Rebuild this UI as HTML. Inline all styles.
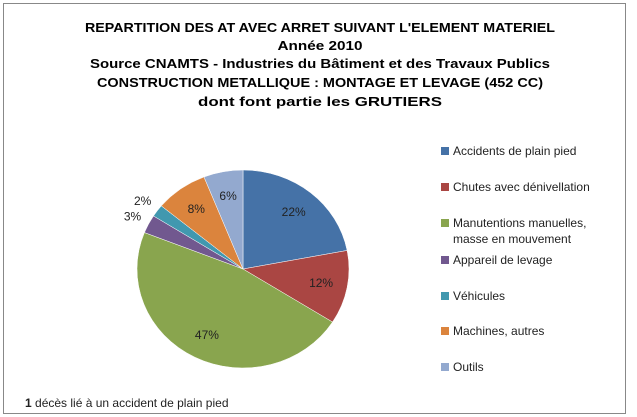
<!DOCTYPE html>
<html><head><meta charset="utf-8"><style>
html,body{margin:0;padding:0;background:#fff;}
svg{display:block;font-family:"Liberation Sans",sans-serif;}
</style></head><body>
<svg id="chart" width="637" height="417" viewBox="0 0 637 417">
<rect x="3.5" y="3.5" width="622" height="410" fill="#fff" stroke="#888" stroke-width="1"/>
<g font-weight="bold" font-size="13" fill="#000" text-anchor="middle">
<text x="320" y="32" textLength="470" lengthAdjust="spacingAndGlyphs">REPARTITION DES AT AVEC ARRET SUIVANT L'ELEMENT MATERIEL</text>
<text x="320" y="50" textLength="85" lengthAdjust="spacingAndGlyphs">Année 2010</text>
<text x="320" y="68" textLength="460" lengthAdjust="spacingAndGlyphs">Source CNAMTS - Industries du Bâtiment et des Travaux Publics</text>
<text x="320" y="87" textLength="446" lengthAdjust="spacingAndGlyphs">CONSTRUCTION METALLIQUE : MONTAGE ET LEVAGE (452 CC)</text>
<text x="320" y="106" textLength="244" lengthAdjust="spacingAndGlyphs">dont font partie les GRUTIERS</text>
</g>
<g id="slices"></g>
<g id="labels" font-size="12" fill="#222"></g>
<g id="legend" font-size="12" fill="#222"></g>
<text x="25" y="407" font-size="12" fill="#222"><tspan font-weight="bold">1</tspan> décès lié à un accident de plain pied</text>
</svg>
<script>
const categories = ["Accidents de plain pied","Chutes avec dénivellation","Manutentions manuelles, masse en mouvement","Appareil de levage","Véhicules","Machines, autres","Outils"];
const values = [22,12,47,3,2,8,6];
const colors = ["#4572A7","#AA4643","#89A54E","#71588F","#4198AF","#DB843D","#93A9CF"];
const legendLines = [["Accidents de plain pied"],["Chutes avec dénivellation"],["Manutentions manuelles,","masse en mouvement"],["Appareil de levage"],["Véhicules"],["Machines, autres"],["Outils"]];
const NS="http://www.w3.org/2000/svg";
const cx=243, cy=269, rx=106, ry=99;
const total=values.reduce((a,b)=>a+b,0);
function pt(frac,k){const a=frac*2*Math.PI;return [cx+rx*k*Math.sin(a), cy-ry*k*Math.cos(a)];}
const gs=document.getElementById('slices'), gl=document.getElementById('labels'), gleg=document.getElementById('legend');
let acc=0;
values.forEach((v,i)=>{
  const f0=acc/total, f1=(acc+v)/total; acc+=v;
  const p0=pt(f0,1), p1=pt(f1,1);
  const large=(f1-f0)>0.5?1:0;
  const path=document.createElementNS(NS,'path');
  path.setAttribute('d',`M${cx},${cy} L${p0[0]},${p0[1]} A${rx},${ry} 0 ${large} 1 ${p1[0]},${p1[1]} Z`);
  path.setAttribute('fill',colors[i]);
  path.setAttribute('stroke','#fff');
  path.setAttribute('stroke-width','0.5');
  
  
  gs.appendChild(path);
  const fm=(f0+f1)/2;
  const k = (v/total<0.04)?1.17:0.75;
  const lp=pt(fm,k);
  const t=document.createElementNS(NS,'text');
  t.setAttribute('x',lp[0]); t.setAttribute('y',lp[1]+4);
  t.setAttribute('text-anchor','middle');
  t.textContent=Math.round(v/total*100)+'%';
  
  
  gl.appendChild(t);
});
const legY=[151,187,223,260,296,331,367];
categories.forEach((c,i)=>{
  const g=document.createElementNS(NS,'g');
  
  
  const r=document.createElementNS(NS,'rect');
  r.setAttribute('x',441); r.setAttribute('y',legY[i]-4); r.setAttribute('width',8); r.setAttribute('height',8);
  r.setAttribute('fill',colors[i]);
  g.appendChild(r);
  legendLines[i].forEach((ln,j)=>{
    const t=document.createElementNS(NS,'text');
    t.setAttribute('x',453); t.setAttribute('y',legY[i]+4+j*16);
    t.textContent=ln;
    g.appendChild(t);
  });
  gleg.appendChild(g);
});
</script>
</body></html>
